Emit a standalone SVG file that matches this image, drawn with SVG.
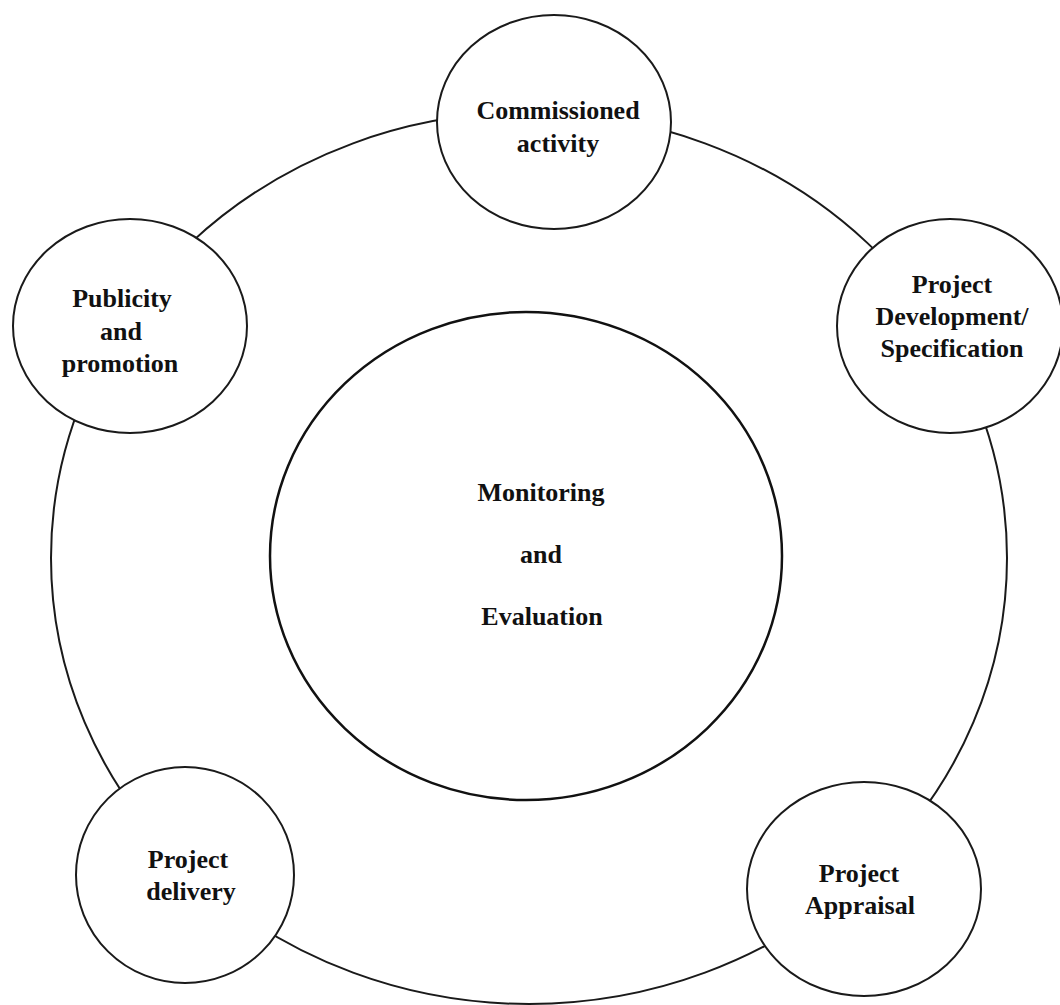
<svg xmlns="http://www.w3.org/2000/svg" width="1060" height="1005" viewBox="0 0 1060 1005">
  <style>
    .ring { fill: none; stroke: #1a1a1a; stroke-width: 2; }
    .node { fill: #ffffff; stroke: #1a1a1a; stroke-width: 2; }
    .hub { fill: #ffffff; stroke: #111111; stroke-width: 2.5; }
    .label { font-family: "Liberation Serif", "Times New Roman", serif; font-weight: bold; font-size: 26px; fill: #111111; text-anchor: middle; }
  </style>
  <rect width="1060" height="1005" fill="#ffffff"/>

  <!-- cycle linking the five stages -->
  <g id="connectors">
    <ellipse class="ring" cx="529" cy="558" rx="478" ry="446"/>
  </g>

  <!-- central hub -->
  <g id="node-monitoring">
    <ellipse class="hub" cx="526" cy="556" rx="256" ry="244"/>
    <text class="label" x="541" y="501">Monitoring</text>
    <text class="label" x="541" y="563">and</text>
    <text class="label" x="542" y="625">Evaluation</text>
  </g>

  <g id="node-commissioned">
    <ellipse class="node" cx="554" cy="122" rx="117" ry="107"/>
    <text class="label" x="558" y="119">Commissioned</text>
    <text class="label" x="558" y="152">activity</text>
  </g>

  <g id="node-development">
    <ellipse class="node" cx="950" cy="326" rx="113" ry="107"/>
    <text class="label" x="952" y="293">Project</text>
    <text class="label" x="952" y="325">Development/</text>
    <text class="label" x="952" y="357">Specification</text>
  </g>

  <g id="node-appraisal">
    <ellipse class="node" cx="864" cy="889" rx="117" ry="107"/>
    <text class="label" x="859" y="882">Project</text>
    <text class="label" x="860" y="914">Appraisal</text>
  </g>

  <g id="node-delivery">
    <ellipse class="node" cx="185" cy="875" rx="109" ry="108"/>
    <text class="label" x="188" y="868">Project</text>
    <text class="label" x="191" y="900">delivery</text>
  </g>

  <g id="node-publicity">
    <ellipse class="node" cx="130" cy="326" rx="117" ry="107"/>
    <text class="label" x="122" y="307">Publicity</text>
    <text class="label" x="121" y="340">and</text>
    <text class="label" x="120" y="372">promotion</text>
  </g>
</svg>
